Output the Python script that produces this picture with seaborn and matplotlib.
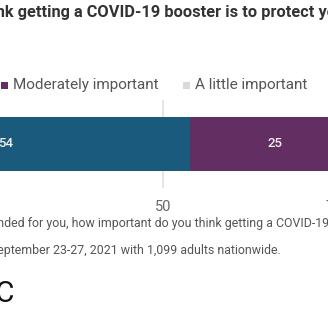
import matplotlib
matplotlib.use("Agg")
import matplotlib.pyplot as plt
import seaborn as sns
import pandas as pd
from matplotlib.patches import Rectangle

# ---- data ----
categories = ["Extremely/very important", "Moderately important",
              "A little important", "Not at all important"]
values = [54, 25, 13, 8]
colors = ["#1a5b7d", "#632f63", "#d9d9d9", "#9e9e9e"]
group = ["All adults"]
ticks = [0, 25, 50, 75, 100]
tick_labels = ["0", "25", "50", "75", "100"]
title = ("How important do you think getting a COVID-19 booster is to "
         "protect yourself from serious illness?")
question = ("Question: If a COVID-19 booster shot is recommended for you, how important "
            "do you think getting a COVID-19 booster is to protect yourself?")
source = "Source: AP-NORC poll conducted September 23-27, 2021 with 1,099 adults nationwide."
logo = "AP-NORC"

sns.set_theme(style="white")
plt.rcParams['font.family'] = ['Roboto', 'DejaVu Sans']

W = H = 328
fig = plt.figure(figsize=(3.28, 3.28), dpi=100)
fig.patch.set_facecolor("white")
renderer = fig.canvas.get_renderer()


def fx(px):
    return px / W


def fy(py):
    return 1 - py / H


def text_width(s, **kw):
    t = fig.text(0, 0, s, **kw)
    w = t.get_window_extent(renderer=renderer).width
    t.remove()
    return w


# ---- axes (scrolled view: x=0 lies off canvas) ----
x0_px, x100_px = -178.8, 504.2
top_px, bot_px = 100, 188
ax = fig.add_axes([fx(x0_px), fy(bot_px), (x100_px - x0_px) / W, (bot_px - top_px) / H])

df = pd.DataFrame({"category": categories, "value": values})
df["cum"] = df["value"].cumsum()
df["start"] = df["cum"] - df["value"]

for t in ticks:
    ax.axvline(t, color="#e3e3e3", lw=1.3, zorder=0)

for i in reversed(range(len(df))):
    sns.barplot(x=[df["cum"][i]], y=group, color=colors[i], orient="h",
                width=54 / 88, saturation=1, linewidth=0, ax=ax, zorder=2)

for i in range(len(df)):
    ax.text(df["start"][i] + df["value"][i] / 2, 0, str(df["value"][i]),
            ha="center", va="center", color="#eeeeee", fontsize=9.5,
            fontweight="medium", zorder=3)

ax.set_xlim(0, 100)
ax.set_ylim(0.5, -0.5)
ax.set_xticks(ticks)
ax.set_xticklabels(tick_labels, fontsize=10.5, color="#666666")
ax.tick_params(axis="x", length=0, pad=9)
ax.set_yticks([])
ax.set_xlabel("")
ax.set_ylabel("")
for s in ax.spines.values():
    s.set_visible(False)
ax.patch.set_alpha(0)

# ---- title ----
tkw = dict(fontsize=11.8, fontweight="bold", color="#333333")
pre = text_width("How important do you thi", **tkw)
fig.text(fx(-4 - pre), fy(17), title, ha="left", va="baseline", **tkw)

# ---- legend ----
lkw = dict(fontsize=11, color="#555555")
patch, gap, spacing = 7, 4.5, 25
widths = [text_width(c, **lkw) for c in categories]
starts = [0.0] * len(categories)
starts[1] = 12.7
starts[0] = starts[1] - patch - gap - spacing - widths[0]
for i in range(2, len(categories)):
    starts[i] = starts[i - 1] + widths[i - 1] + spacing + patch + gap
for i, c in enumerate(categories):
    sx = starts[i]
    fig.add_artist(Rectangle((fx(sx - gap - patch), fy(89)), patch / W, patch / H,
                             transform=fig.transFigure, color=colors[i], lw=0))
    fig.text(fx(sx), fy(89), c, ha="left", va="baseline", **lkw)

# ---- notes ----
nkw = dict(fontsize=8.9, color="#555555")
pre_q = text_width("Question: If a COVID-19 booster shot is recomme", **nkw)
fig.text(fx(-3 - pre_q), fy(227), question, ha="left", va="baseline", **nkw)
pre_s = text_width("Source: AP-NORC poll conducted S", **nkw)
fig.text(fx(-3 - pre_s), fy(254), source, ha="left", va="baseline", **nkw)

# ---- logo ----
fig.text(fx(14.5), fy(302.5), logo, ha="right", va="baseline", fontsize=21,
         fontweight="normal", color="#111111")

fig.savefig("out.png", dpi=100, facecolor="white")
